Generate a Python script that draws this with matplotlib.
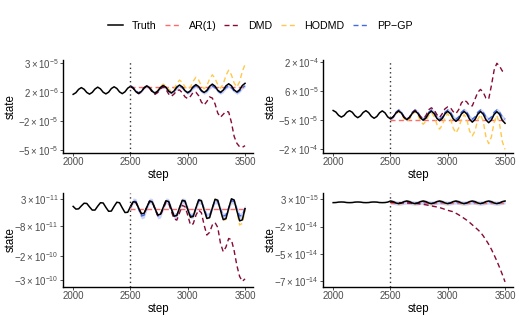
import numpy as np
import matplotlib
matplotlib.use("Agg")
import matplotlib.pyplot as plt
from matplotlib.lines import Line2D

plt.rcParams['font.family'] = ['Liberation Sans', 'DejaVu Sans']
plt.rcParams['mathtext.fontset'] = 'custom'
plt.rcParams['mathtext.rm'] = 'Liberation Sans'
plt.rcParams['mathtext.it'] = 'Liberation Sans:italic'

# %% data
# sampling grid of the series (6 samples per oscillation), forecasts start at 2500
step = np.linspace(2000, 3500, 64)
fc_step = step[21:]
ar_step = [2500, 3500]

# top-left, units of 1e-6
truth_tl = [-1.8, -0.4, 2.5, 4.0, 2.6, -0.2, -1.6, -0.1, 2.8, 4.4, 2.9, 0.0, -1.4, 0.1, 3.2, 4.7,
            3.3, 0.3, -1.2, 0.4, 3.5, 5.1, 3.6, 0.5, -1.0, 0.6, 3.8, 5.5, 3.9, 0.8, -0.8, 0.9,
            4.2, 5.8, 4.3, 1.0, -0.6, 1.1, 4.5, 6.2, 4.6, 1.3, -0.4, 1.3, 4.8, 6.6, 4.9, 1.5,
            -0.2, 1.6, 5.1, 7.0, 5.2, 1.7, 0.0, 1.8, 5.5, 7.3, 5.6, 2.0, 0.2, 2.1, 5.8, 7.7]
ar_tl = [4.8, 4.8]
dmd_tl = [5.1, 3.6, 0.4, -1.2, 0.4, 3.6, 5.2, 3.5, 0.0, -1.8, -0.2, 3.0, 4.5, 2.5, -1.5, -3.5,
          -1.5, 1.5, 2.0, -0.5, -4.0, -5.5, -3.5, 0.0, 0.0, -3.0, -8.5, -11.0, -8.0, -4.0, -5.0,
          -10.0, -18.0, -21.5, -19.0, -16.5, -17.0, -26.0, -38.0, -44.0, -47.0, -47.5, -46.0]
hodmd_tl = [5.1, 3.8, 0.8, -0.6, 0.9, 3.9, 5.6, 4.2, 1.2, -0.2, 1.5, 5.0, 7.0, 5.5, 2.5, 1.0,
            3.0, 7.5, 10.5, 8.5, 4.5, 2.5, 4.5, 9.5, 13.0, 10.5, 5.5, 3.0, 5.5, 11.5, 15.0, 12.0,
            6.5, 3.5, 7.0, 14.5, 19.0, 15.0, 8.0, 4.5, 9.0, 18.0, 24.0]
gp_tl = [5.5, 4.0, 1.0, -0.5, 1.0, 4.0] * 7 + [5.5]
band_tl = 1.3

# top-right, units of 1e-5
truth_tr = [-4.9, -5.7, -7.4, -8.3, -7.5, -5.8, -5.0, -5.8, -7.6, -8.6, -7.7, -5.9, -5.0, -6.0, -7.9, -8.9,
            -8.0, -6.1, -5.1, -6.1, -8.2, -9.2, -8.2, -6.2, -5.1, -6.2, -8.4, -9.6, -8.5, -6.3, -5.2, -6.3,
            -8.7, -9.9, -8.8, -6.4, -5.2, -6.5, -8.9, -10.2, -9.0, -6.5, -5.3, -6.6, -9.2, -10.5, -9.3, -6.7,
            -5.4, -6.7, -9.4, -10.9, -9.5, -6.8, -5.4, -6.8, -9.7, -11.2, -9.8, -6.9, -5.5, -6.9, -10.0, -11.5]
ar_tr = [-9.6, -9.6]
dmd_tr = [-9.2, -8.2, -6.2, -5.1, -6.2, -8.4, -9.6, -8.4, -6.0, -4.8, -5.8, -8.0, -9.0, -7.5, -4.5, -3.5,
          -4.5, -7.0, -8.5, -6.5, -4.0, -3.0, -3.5, -5.5, -6.5, -4.5, -1.0, 0.5, -0.5, -2.5, -2.5,
          1.0, 4.5, 6.0, 4.5, 1.5, 1.0, 8.0, 16.0, 19.5, 18.0, 15.5, 15.0]
hodmd_tr = [-9.2, -8.3, -6.5, -5.5, -6.7, -9.2, -10.5, -9.4, -6.9, -5.5, -7.1, -10.3, -12.0, -10.5, -7.5, -6.0,
            -8.0, -12.0, -14.5, -12.5, -8.5, -6.5, -9.0, -14.0, -16.5, -14.0, -9.5, -7.0, -9.5, -15.5, -18.0,
            -15.5, -9.5, -7.0, -10.5, -18.5, -22.0, -18.5, -11.0, -7.5, -12.0, -21.0, -25.0]
gp_tr = [-9.4, -8.2, -5.8, -4.6, -5.8, -8.2] * 7 + [-9.4]
band_tr = 0.9

# bottom-left, units of 1e-11
truth_bl = [0.1, -1.0, -0.9, 0.3, 1.4, 1.3, -0.1, -1.4, -1.4, 0.2, 1.6, 1.5, -0.3, -1.9, -1.8, 0.1,
            1.8, 1.6, -0.5, -2.4, -2.3, 0.0, 2.0, 1.8, -0.6, -2.9, -2.7, -0.2, 2.2, 1.9, -0.8, -3.4,
            -3.1, -0.3, 2.4, 2.1, -1.0, -3.9, -3.6, -0.4, 2.6, 2.3, -1.2, -4.3, -4.0, -0.5, 2.8, 2.4,
            -1.4, -4.8, -4.5, -0.6, 3.0, 2.6, -1.5, -5.3, -4.9, -0.7, 3.2, 2.7, -1.7, -5.8, -5.4, -0.8]
ar_bl = [-0.8, -0.8]
dmd_bl = [0.0, 2.0, 1.8, -0.6, -2.9, -2.7, -0.2, 2.2, 1.9, -1.0, -3.6, -3.5, -0.8, 1.8, 1.4, -2.0,
          -5.0, -5.5, -2.5, 0.5, 0.0, -3.5, -7.5, -7.0, -3.5, -1.4, -2.5, -7.5, -11.6, -10.5, -7.5,
          -6.5, -8.5, -15.0, -18.4, -16.5, -13.0, -13.5, -18.0, -24.0, -28.5, -30.5, -29.5]
hodmd_bl = [0.0, 2.0, 1.8, -0.6, -2.9, -2.7, -0.2, 2.2, 1.9, -0.8, -3.4, -3.1, -0.3, 2.4, 2.1, -1.0,
            -3.9, -3.6, -0.4, 2.6, 2.3, -1.2, -4.3, -4.0, -0.5, 2.8, 2.4, -1.4, -4.9, -4.6, -0.6,
            3.0, 2.6, -1.6, -5.6, -5.2, -0.8, 3.1, 2.6, -2.0, -7.5, -6.8, -1.5]
gp_bl = [-0.4, 2.4, 2.1, -1.0, -3.8, -3.5] * 7 + [-0.4]
band_bl = 1.2

# bottom-right, units of 1e-14
truth_br = [-0.31, -0.30, -0.26, -0.25, -0.26, -0.30] * 3 + [-0.31, -0.30, -0.26] + \
           [-0.16, -0.22, -0.34, -0.40, -0.34, -0.22] * 7 + [-0.16]
ar_br = [-0.30, -0.30]
dmd_br = [-0.28, -0.29, -0.30, -0.31, -0.32, -0.33, -0.34, -0.35, -0.36, -0.37, -0.40, -0.43, -0.47,
          -0.51, -0.56, -0.61, -0.66, -0.70, -0.76, -0.84, -0.93, -1.01, -1.08, -1.14, -1.28, -1.42,
          -1.58, -1.75, -1.92, -2.12, -2.34, -2.56, -2.78, -3.02, -3.35, -3.72, -4.12, -4.58, -5.10,
          -5.65, -6.25, -6.88, -7.56]
hodmd_br = [-0.15, -0.23, -0.38, -0.45, -0.38, -0.23] * 7 + [-0.15]
gp_br = [-0.24, -0.27, -0.33, -0.36, -0.33, -0.27] * 7 + [-0.24]
band_br = 0.2

panels = [
    dict(scale=1e-6, truth=truth_tl, ar=ar_tl, dmd=dmd_tl, hodmd=hodmd_tl, gp=gp_tl, band=band_tl,
         ylim=(-52.1, 27.8), yticks=[25, 0, -25, -50],
         ylabels=[r'$3\times10^{-5}$', r'$2\times10^{-6}$', r'$-2\times10^{-5}$', r'$-5\times10^{-5}$']),
    dict(scale=1e-5, truth=truth_tr, ar=ar_tr, dmd=dmd_tr, hodmd=hodmd_tr, gp=gp_tr, band=band_tr,
         ylim=(-26.7, 21.2), yticks=[20, 5, -10, -25],
         ylabels=[r'$2\times10^{-4}$', r'$6\times10^{-5}$', r'$-5\times10^{-5}$', r'$-2\times10^{-4}$']),
    dict(scale=1e-11, truth=truth_bl, ar=ar_bl, dmd=dmd_bl, hodmd=hodmd_bl, gp=gp_bl, band=band_bl,
         ylim=(-32.7, 5.7), yticks=[3, -8, -20, -30],
         ylabels=[r'$3\times10^{-11}$', r'$-8\times10^{-11}$', r'$-2\times10^{-10}$', r'$-3\times10^{-10}$']),
    dict(scale=1e-14, truth=truth_br, ar=ar_br, dmd=dmd_br, hodmd=hodmd_br, gp=gp_br, band=band_br,
         ylim=(-8.0, 0.6), yticks=[0, -2.5, -5, -7.5],
         ylabels=[r'$3\times10^{-15}$', r'$-2\times10^{-14}$', r'$-5\times10^{-14}$', r'$-7\times10^{-14}$']),
]

c_ar = '#FF6A6A'
c_dmd = '#850A35'
c_hodmd = '#FFC84A'
c_gp = '#3F6BEA'
c_band = '#B9C3F4'
dash = (3.6, 2.4)

# %% plot
fig = plt.figure(figsize=(5.2, 3.2), dpi=100)
W, H = 520, 320
boxes = [(63.3, 60, 190, 92.7), (323.3, 60, 190, 92.7),
         (63.3, 192.7, 190, 94), (323.3, 192.7, 190, 94)]

for p, (x0, y0, w, h) in zip(panels, boxes):
    ax = fig.add_axes([x0 / W, 1 - (y0 + h) / H, w / W, h / H])
    s = p['scale']
    gp = np.array(p['gp'])
    ax.fill_between(fc_step, (gp - p['band']) * s, (gp + p['band']) * s, color=c_band, alpha=0.7, lw=0)
    ax.plot(ar_step, np.array(p['ar']) * s, color=c_ar, lw=1.0, dashes=dash)
    ax.plot(fc_step, np.array(p['hodmd']) * s, color=c_hodmd, lw=1.0, dashes=dash)
    ax.plot(fc_step, gp * s, color=c_gp, lw=1.0, dashes=dash)
    ax.plot(fc_step, np.array(p['dmd']) * s, color=c_dmd, lw=1.0, dashes=dash)
    ax.plot(step, np.array(p['truth']) * s, color='black', lw=1.1)
    ax.axvline(2500, color='#333333', lw=1.0, ls=(0, (1, 2.2)))

    ax.set_xlim(1914, 3572)
    ax.set_ylim(p['ylim'][0] * s, p['ylim'][1] * s)
    ax.set_xticks([2000, 2500, 3000, 3500])
    ax.set_yticks(np.array(p['yticks']) * s)
    ax.set_yticklabels(p['ylabels'])
    ax.tick_params(labelsize=7.0, labelcolor='#4D4D4D', color='#333333', length=2.2, width=0.6, pad=1.2)
    for side in ['top', 'right']:
        ax.spines[side].set_visible(False)
    for side in ['left', 'bottom']:
        ax.spines[side].set_linewidth(1.0)
    ax.set_xlabel('step', fontsize=8.3)
    ax.set_ylabel('state', fontsize=8.3)
    ax.yaxis.set_label_coords(-0.245, 0.5)
    ax.xaxis.set_label_coords(0.5, -16.5 / h)

handles = [Line2D([], [], color='black', lw=1.1),
           Line2D([], [], color=c_ar, lw=1.0, dashes=dash),
           Line2D([], [], color=c_dmd, lw=1.0, dashes=dash),
           Line2D([], [], color=c_hodmd, lw=1.0, dashes=dash),
           Line2D([], [], color=c_gp, lw=1.0, dashes=dash)]
fig.legend(handles, ['Truth', 'AR(1)', 'DMD', 'HODMD', 'PP\u2212GP'], loc='center',
           bbox_to_anchor=(0.5, 1 - 26 / H), ncol=5, frameon=False, fontsize=7.7,
           handlelength=1.4, handletextpad=0.85, columnspacing=0.75)

fig.savefig('out.png', dpi=100)
